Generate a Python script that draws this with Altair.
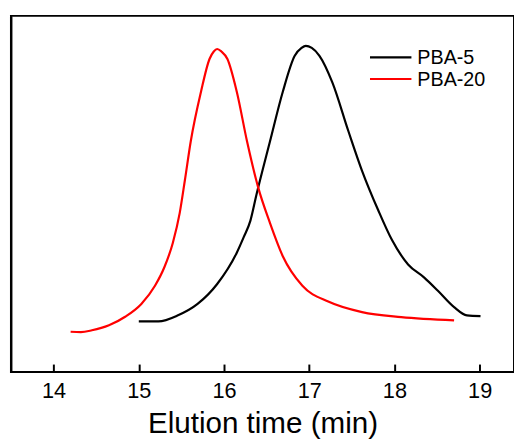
import altair as alt
import pandas as pd

# PBA-20 (red) elution curve
red_time = [14.20, 14.32, 14.45, 14.65, 14.84, 15.03, 15.19, 15.30, 15.40, 15.48,
            15.54, 15.61, 15.73, 15.83, 15.88, 15.92, 15.97, 16.04, 16.15, 16.27,
            16.40, 16.54, 16.69, 16.92, 17.23, 17.62, 18.08, 18.70]
red_signal = [0.113, 0.112, 0.117, 0.131, 0.155, 0.191, 0.242, 0.294, 0.363, 0.446,
              0.537, 0.648, 0.787, 0.879, 0.900, 0.907, 0.900, 0.879, 0.787, 0.648,
              0.519, 0.418, 0.325, 0.242, 0.197, 0.168, 0.154, 0.145]

# PBA-5 (black) elution curve
black_time = [15.00, 15.23, 15.46, 15.69, 15.92, 16.15, 16.23, 16.31, 16.38, 16.54,
              16.69, 16.83, 16.91, 16.96, 17.03, 17.12, 17.27, 17.46, 17.62, 17.81,
              17.97, 18.16, 18.35, 18.51, 18.70, 18.85, 19.01]
black_signal = [0.142, 0.142, 0.159, 0.191, 0.247, 0.335, 0.378, 0.425, 0.497, 0.648,
                0.787, 0.888, 0.910, 0.916, 0.910, 0.888, 0.814, 0.676, 0.565, 0.454,
                0.371, 0.302, 0.265, 0.228, 0.182, 0.159, 0.157]

series_names = ["PBA-5", "PBA-20"]
series_colors = ["#000000", "#ff0000"]
tick_values = [14, 15, 16, 17, 18, 19]

W, H = 510, 361
TICK_LEN = 8
FONT = "Liberation Sans"

df = pd.concat([
    pd.DataFrame({"time": black_time, "signal": black_signal, "series": "PBA-5", "order": range(len(black_time))}),
    pd.DataFrame({"time": red_time, "signal": red_signal, "series": "PBA-20", "order": range(len(red_time))}),
])

xscale = alt.Scale(domain=[13.5, 19.403], nice=False, zero=False)
yscale = alt.Scale(domain=[0, 1], nice=False, zero=False)

# The bottom axis is lifted by the tick length so that its ticks point into the plot;
# the frame (view stroke) draws the bottom border line itself.
lines = alt.Chart(df).mark_line(interpolate="monotone", strokeWidth=2.2).encode(
    x=alt.X("time:Q", scale=xscale,
            axis=alt.Axis(title="Elution time (min)", values=tick_values, format="d",
                          grid=False, ticks=True, tickSize=TICK_LEN, tickWidth=2,
                          tickColor="#000", domain=False, offset=-TICK_LEN,
                          labelFont=FONT, labelFontSize=22,
                          labelColor="#000", labelPadding=9, titleFont=FONT,
                          titleFontSize=30, titleFontWeight="normal",
                          titleColor="#000", titleBaseline="alphabetic",
                          titleY=61 + TICK_LEN)),
    y=alt.Y("signal:Q", scale=yscale,
            axis=alt.Axis(title=None, labels=False, ticks=False, grid=False,
                          domain=True, domainColor="#000", domainWidth=2)),
    color=alt.Color("series:N", scale=alt.Scale(domain=series_names, range=series_colors), legend=None),
    order="order:Q",
)

legend_layers = []
for i, (name, col) in enumerate(zip(series_names, series_colors)):
    yy = 42 + i * 22
    legend_layers.append(
        alt.Chart(pd.DataFrame({"a": [0]})).mark_rule(color=col, strokeWidth=2.2).encode(
            x=alt.value(364), x2=alt.value(406), y=alt.value(yy))
    )
    legend_layers.append(
        alt.Chart(pd.DataFrame({"a": [0]})).mark_text(
            text=name, font=FONT, fontSize=20, align="left", baseline="middle", color="#000"
        ).encode(x=alt.value(412), y=alt.value(yy + 1))
    )

chart = alt.layer(lines, *legend_layers).properties(
    width=W, height=H, background="white",
    padding={"left": 3, "top": 5, "right": 0, "bottom": 0},
).configure_view(stroke="#000", strokeWidth=2)

chart.save("out.html", embed_options={"renderer": "svg", "actions": False})
